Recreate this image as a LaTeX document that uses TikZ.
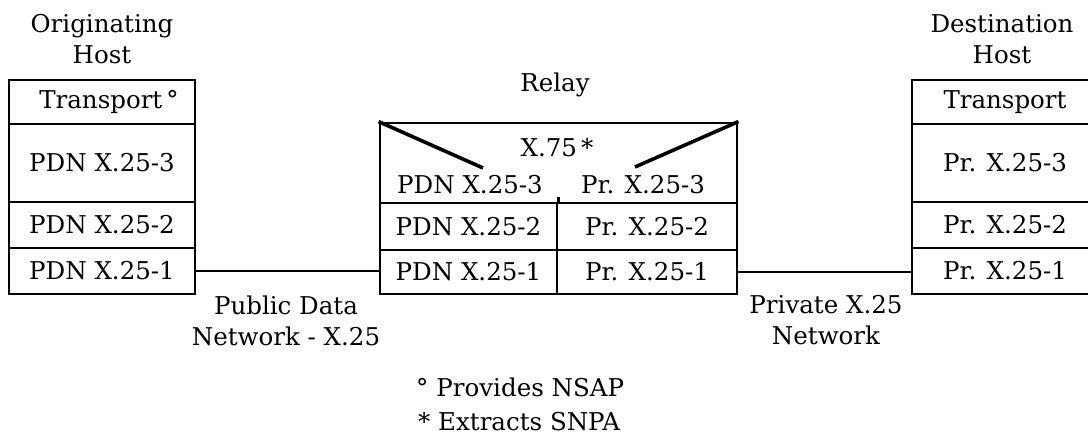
\documentclass[tikz,border=0pt]{standalone}
\usepackage{fontspec}
\setmainfont{DejaVu Serif}
\usetikzlibrary{positioning}

\newcommand{\stackfont}{\fontsize{24.5}{31}\selectfont}
\tikzset{
	layer/.style={draw, line width=2.8pt, inner sep=0pt, font=\stackfont},
	label/.style={align=center, inner sep=0pt, font=\stackfont},
	link/.style={line width=2.2pt},
	slant/.style={line width=3.6pt}
}

\begin{document}
\begin{tikzpicture}[x=1pt, y=-1pt]
		\clip (0,0) rectangle (1088,435);
		% originating host
		\node[label] (OH) at (102,39) {Originating\\Host};
		\node[layer, minimum width=186pt, minimum height=44pt] (OT) at (102,102) {\hspace*{14pt}Transport\,°};
		\node[layer, minimum width=186pt, minimum height=78pt] (O3) at (102,163) {PDN X.25-3};
		\node[layer, minimum width=186pt, minimum height=46pt] (O2) at (102,225) {PDN X.25-2};
		\node[layer, minimum width=186pt, minimum height=46pt] (O1) at (102,271) {PDN X.25-1};
		% relay
		\node[label] (RY) at (555,85) {Relay};
		\node[layer, minimum width=357pt, minimum height=80pt] (R3) at (558.5,163) {};
		\node[layer, minimum width=177pt, minimum height=47pt] (RL2) at (468.5,226.5) {PDN X.25-2};
		\node[layer, minimum width=180pt, minimum height=47pt] (RR2) at (647,226.5) {Pr. X.25-2};
		\node[layer, minimum width=177pt, minimum height=44pt] (RL1) at (468.5,272) {PDN X.25-1};
		\node[layer, minimum width=180pt, minimum height=44pt] (RR1) at (647,272) {Pr. X.25-1};
		\node[label] (X75) at (557,148) {X.75\,*};
		\node[label] (PL3) at (470,185) {PDN X.25-3};
		\node[label] (PR3) at (643,185) {Pr. X.25-3};
		\draw[slant] (R3.north west) -- (483,168);
		\draw[slant] (R3.north east) -- (635,167);
		\draw[layer] (RL2.north east) -- ++(0,-5);
		% destination host
		\node[label] (DH) at (1002,39) {Destination\\Host};
		\node[layer, minimum width=186pt, minimum height=44pt] (DT) at (1005,102) {Transport};
		\node[layer, minimum width=186pt, minimum height=78pt] (D3) at (1005,163) {Pr. X.25-3};
		\node[layer, minimum width=186pt, minimum height=46pt] (D2) at (1005,225) {Pr. X.25-2};
		\node[layer, minimum width=186pt, minimum height=46pt] (D1) at (1005,271) {Pr. X.25-1};
		% networks
		\draw[link] (O1.east) -- (O1.east -| RL1.west);
		\draw[link] (RR1.east) -- (RR1.east -| D1.west);
		\node[label] (PUB) at (286,321) {Public Data\\Network - X.25};
		\node[label] (PRV) at (826,320) {Private X.25\\Network};
		% notes
		\node[label, anchor=west] (N1) at (416,387) {°\hspace{8pt}Provides NSAP};
		\node[label, anchor=west] (N2) at (418,422) {* Extracts SNPA};
	\end{tikzpicture}
\end{document}
